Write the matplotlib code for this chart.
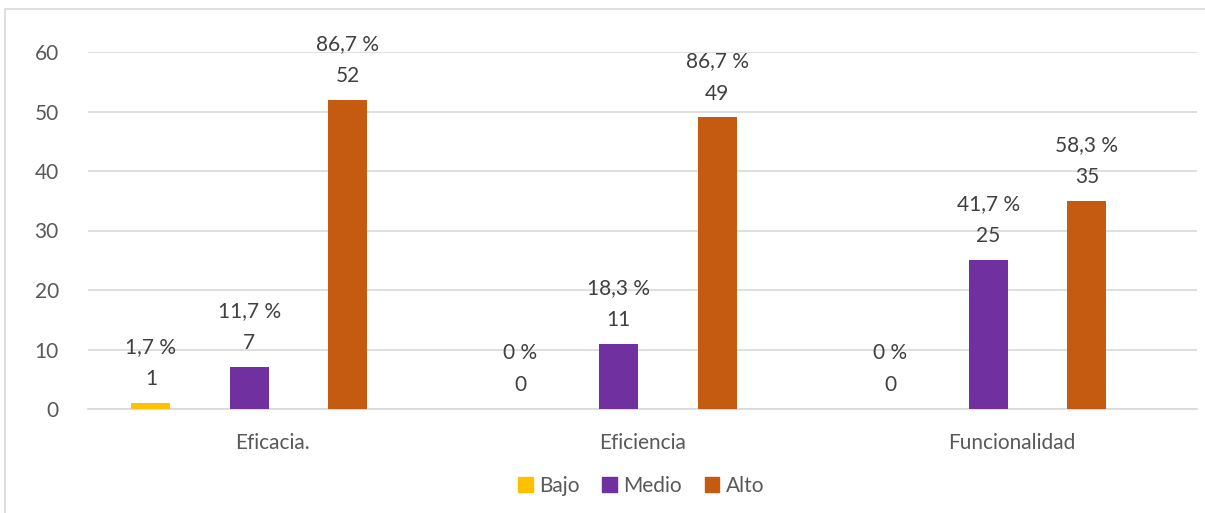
import matplotlib.pyplot as plt
from matplotlib.patches import Patch, Rectangle
import numpy as np

plt.rcParams['font.family'] = ['Lato', 'DejaVu Sans']

categories = ["Eficacia.", "Eficiencia", "Funcionalidad"]
series = ["Bajo", "Medio", "Alto"]
bajo = [1, 0, 0]
medio = [7, 11, 25]
alto = [52, 49, 35]
bajo_pct = ["1,7 %", "0 %", "0 %"]
medio_pct = ["11,7 %", "18,3 %", "41,7 %"]
alto_pct = ["86,7 %", "86,7 %", "58,3 %"]
colors = ["#FFC000", "#7030A0", "#C55A11"]

fig = plt.figure(figsize=(12.05, 5.13), dpi=100)
W, H = 1205, 513
ax = fig.add_axes([88 / W, (H - 409) / H, (1197 - 88) / W, (409 - 52) / H])

# light frame of the chart area
fig.patches.append(Rectangle((5 / W, -0.1), 1.2, (H - 9) / H + 0.1, transform=fig.transFigure,
                             fill=False, edgecolor="#D9D9D9", linewidth=1.2))

x = np.arange(len(categories))
offsets = [-0.33, -0.064, 0.202]
width = 0.105
data = [bajo, medio, alto]
pcts = [bajo_pct, medio_pct, alto_pct]

for vals, lab, col, off, name in zip(data, pcts, colors, offsets, series):
    ax.bar(x + off, vals, width, color=col, label=name, zorder=3)
    for xi, v, p in zip(x + off, vals, lab):
        ax.annotate(f"{p}\n{v}", (xi, v), xytext=(0, 10), textcoords="offset points",
                    ha="center", va="bottom", fontsize=15, color="#404040", linespacing=1.75)

ax.set_xlim(-0.5, 2.5)
ax.set_ylim(0, 60)
ax.set_yticks(range(0, 61, 10))
ax.set_xticks(x)
ax.set_xticklabels(categories)
ax.grid(axis="y", color="#D9D9D9", linewidth=1.2, zorder=0)
for s in ["top", "right", "left"]:
    ax.spines[s].set_visible(False)
ax.spines["bottom"].set_color("#D9D9D9")
ax.spines["bottom"].set_linewidth(1.2)
ax.tick_params(axis="y", length=0, pad=21, labelsize=15, labelcolor="#595959")
ax.tick_params(axis="x", length=0, pad=17, labelsize=15, labelcolor="#595959")

handles = [Patch(color=c, label=n) for c, n in zip(colors, series)]
fig.legend(handles=handles, loc="center", bbox_to_anchor=(641 / W, (H - 486) / H), ncol=3,
           frameon=False, fontsize=15, labelcolor="#595959", handlelength=0.7, handleheight=0.7,
           handletextpad=0.3, columnspacing=1.1)

fig.savefig("out.png", dpi=100)
